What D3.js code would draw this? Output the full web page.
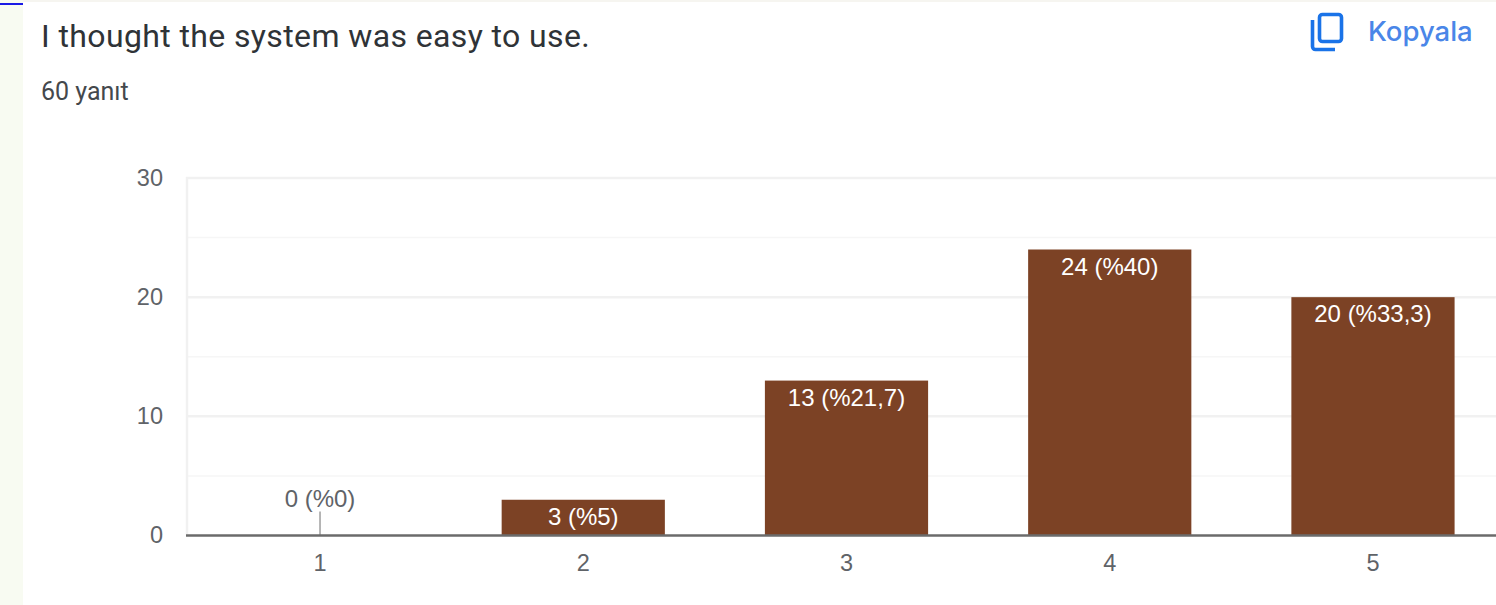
<!DOCTYPE html>
<html>
<head>
<meta charset="utf-8">
<script src="https://cdn.jsdelivr.net/npm/d3@7"></script>
<style>
    html, body { margin: 0; padding: 0; background: #fff; overflow: hidden; }
    text { font-family: Roboto, sans-serif; }
    .axis-label { font-family: "Liberation Sans", Arial, sans-serif; font-size: 23.5px; fill: #5f6368; }
    .bar-label { font-family: "Liberation Sans", Arial, sans-serif; font-size: 24px; }
</style>
</head>
<body>
<div id="chart"></div>
<script>
    var categories = ["1", "2", "3", "4", "5"];
    var counts = [0, 3, 13, 24, 20];
    var percents = ["0", "5", "21,7", "40", "33,3"];
    var yTicks = [0, 10, 20, 30];
    var yGrid = [5, 10, 15, 20, 25, 30];

    var title = "I thought the system was easy to use.";
    var subtitle = "60 yanıt";

    const width = 1496, height = 605;
    const barColor = "#7c4225";

    const svg = d3.select("#chart").append("svg")
        .attr("width", width)
        .attr("height", height)
        .style("display", "block");

    /* page background strips */
    svg.append("rect").attr("x", 0).attr("y", 0).attr("width", width).attr("height", 2).attr("fill", "#f6f5f0");
    svg.append("rect").attr("x", 0).attr("y", 0).attr("width", 23).attr("height", height).attr("fill", "#f8fbf2");
    svg.append("rect").attr("x", 0).attr("y", 3).attr("width", 23).attr("height", 2).attr("fill", "#1a1ae6");

    svg.append("text")
        .attr("x", 41).attr("y", 47)
        .attr("font-size", 32).attr("fill", "#2f3337").attr("letter-spacing", 0.38)
        .text(title);

    svg.append("text")
        .attr("x", 41).attr("y", 100)
        .attr("font-size", 25).attr("fill", "#44484c")
        .text(subtitle);

    /* copy button */
    const copyIcon = svg.append("g").attr("fill", "none").attr("stroke", "#1a73e8").attr("stroke-width", 3.6).attr("stroke-linejoin", "round");
    copyIcon.append("rect").attr("x", 1319.5).attr("y", 14.5).attr("width", 22).attr("height", 27).attr("rx", 3);
    copyIcon.append("path").attr("d", "M1312.5 20V46.5a3 3 0 0 0 3 3H1335");

    svg.append("text")
        .attr("x", 1368).attr("y", 41)
        .attr("font-size", 27.5).attr("font-weight", 500).attr("fill", "#4a86e8")
        .style("font-family", "Inter, Roboto, sans-serif")
        .text("Kopyala");

    /* scales */
    const x = d3.scaleBand()
        .domain(categories)
        .range([188.4, 1504.6])
        .paddingInner(0.38)
        .paddingOuter(0.19);

    const y = d3.scaleLinear()
        .domain([0, 30])
        .range([535.5, 178]);

    /* grid lines */
    svg.append("g").selectAll("line")
        .data(yGrid)
        .enter()
        .append("line")
        .attr("x1", 186)
        .attr("x2", width)
        .attr("y1", function(d){ return y(d) })
        .attr("y2", function(d){ return y(d) })
        .attr("stroke", function(d){ return d % 10 === 0 ? "#f1f1f1" : "#f6f6f6" })
        .attr("stroke-width", function(d){ return d % 10 === 0 ? 2.5 : 1.5 });

    svg.append("line")
        .attr("x1", 187).attr("x2", 187)
        .attr("y1", y(30) - 1).attr("y2", y(0))
        .attr("stroke", "#f1f1f1").attr("stroke-width", 2.5);

    /* bars */
    svg.append("g").selectAll(".bar")
        .data(categories)
        .enter()
        .append("rect")
        .attr("class", "bar")
        .attr("x", function(d){ return x(d) })
        .attr("width", x.bandwidth())
        .attr("y", function(d, i){ return y(counts[i]) })
        .attr("height", function(d, i){ return y(0) - y(counts[i]) })
        .attr("fill", barColor);

    /* the zero bar only gets a short leader up to its label */
    svg.append("line")
        .attr("x1", x("1") + x.bandwidth() / 2).attr("x2", x("1") + x.bandwidth() / 2)
        .attr("y1", y(0)).attr("y2", y(0) - 24)
        .attr("stroke", "#9e9e9e").attr("stroke-width", 1.5);

    /* baseline */
    svg.append("line")
        .attr("x1", 186).attr("x2", width)
        .attr("y1", y(0)).attr("y2", y(0))
        .attr("stroke", "#6b6b6b").attr("stroke-width", 2.5);

    /* value labels */
    svg.append("g").selectAll(".bar-label")
        .data(categories)
        .enter()
        .append("text")
        .attr("class", "bar-label")
        .attr("text-anchor", "middle")
        .attr("x", function(d){ return x(d) + x.bandwidth() / 2 })
        .attr("y", function(d, i){ return counts[i] === 0 ? y(0) - 28.5 : y(counts[i]) + 25 })
        .attr("fill", function(d, i){ return counts[i] === 0 ? "#5f6368" : "#fff" })
        .text(function(d, i){ return counts[i] + " (%" + percents[i] + ")" });

    /* axis labels */
    svg.append("g").selectAll("text")
        .data(yTicks)
        .enter()
        .append("text")
        .attr("class", "axis-label")
        .attr("text-anchor", "end")
        .attr("x", 163)
        .attr("y", function(d){ return y(d) + 7.5 })
        .text(function(d){ return d });

    svg.append("g").selectAll("text")
        .data(categories)
        .enter()
        .append("text")
        .attr("class", "axis-label")
        .attr("text-anchor", "middle")
        .attr("x", function(d){ return x(d) + x.bandwidth() / 2 })
        .attr("y", 570.5)
        .text(function(d){ return d });
</script>
</body>
</html>
